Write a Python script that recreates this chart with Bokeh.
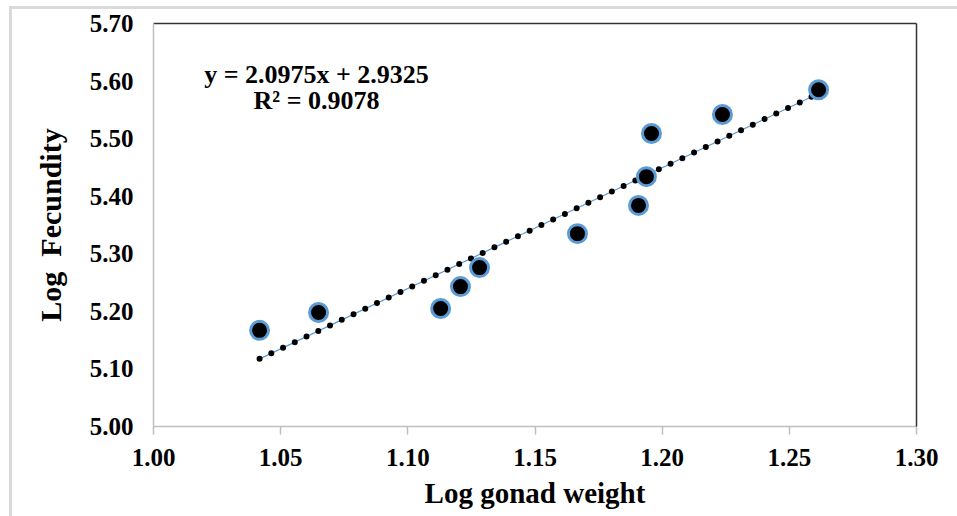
from bokeh.plotting import figure
from bokeh.models import LinearAxis, FixedTicker, Range1d, NumeralTickFormatter, Label
from bokeh.embed import file_html
from bokeh.resources import INLINE

# Data
log_gonad_weight = [1.0417, 1.0649, 1.1129, 1.1207, 1.1282, 1.1667, 1.1907, 1.1938, 1.1958, 1.2237, 1.2615]
log_fecundity = [5.167, 5.198, 5.205, 5.243, 5.276, 5.335, 5.384, 5.434, 5.509, 5.542, 5.585]
slope = 2.0975
intercept = 2.9325
r_squared = 0.9078
x_ticks = [1.00, 1.05, 1.10, 1.15, 1.20, 1.25, 1.30]
y_ticks = [5.00, 5.10, 5.20, 5.30, 5.40, 5.50, 5.60, 5.70]

FONT = "Liberation Serif"
BORDER = "#DADADA"

p = figure(width=957, height=516, output_backend="svg", toolbar_location=None,
           x_range=Range1d(1.00, 1.30), y_range=Range1d(5.00, 5.70),
           min_border_left=153, min_border_right=41, min_border_top=23, min_border_bottom=90,
           background_fill_color="white", border_fill_color=None)
p.styles = {
    "background-color": "white",
    "background-image": f"linear-gradient({BORDER},{BORDER}), linear-gradient({BORDER},{BORDER})",
    "background-size": "100% 3px, 3px 100%",
    "background-position": "9px 6px, 9px 6px",
    "background-repeat": "no-repeat",
}
p.xgrid.visible = False
p.ygrid.visible = False
p.outline_line_color = None

# trend line
tx = [min(log_gonad_weight), max(log_gonad_weight)]
ty = [slope * v + intercept for v in tx]
p.line(tx, ty, line_color="#5B9BD5", line_width=1.2)
p.line(tx, ty, line_color="black", line_width=6, line_dash="0 13", line_cap="round")

p.scatter(log_gonad_weight, log_fecundity, size=18, fill_color="black",
          line_color="#5B9BD5", line_width=3)

# axes styling
xa = p.xaxis[0]
xa.ticker = FixedTicker(ticks=x_ticks)
xa.formatter = NumeralTickFormatter(format="0.00")
xa.axis_label = "Log gonad weight"
xa.axis_line_color = "#BFBFBF"
xa.axis_line_width = 1.5
xa.major_tick_line_color = "#BFBFBF"
xa.major_tick_line_width = 1.5
xa.major_tick_out = 8
xa.major_tick_in = 0
xa.minor_tick_line_color = None
xa.major_label_standoff = 14
xa.axis_label_standoff = 8
xa.major_label_text_font = FONT
xa.major_label_text_font_style = "bold"
xa.major_label_text_font_size = "25px"
xa.major_label_text_color = "black"
xa.axis_label_text_font = FONT
xa.axis_label_text_font_style = "bold"
xa.axis_label_text_font_size = "29px"
xa.axis_label_text_color = "black"

ya = p.yaxis[0]
ya.ticker = FixedTicker(ticks=y_ticks)
ya.formatter = NumeralTickFormatter(format="0.00")
ya.axis_label = "Log\u00a0 Fecundity"
ya.axis_line_color = "#BFBFBF"
ya.axis_line_width = 1.5
ya.major_tick_line_color = None
ya.major_tick_out = 0
ya.major_tick_in = 0
ya.minor_tick_line_color = None
ya.major_label_standoff = 20
ya.axis_label_standoff = 20
ya.major_label_text_font = FONT
ya.major_label_text_font_style = "bold"
ya.major_label_text_font_size = "25px"
ya.major_label_text_color = "black"
ya.axis_label_text_font = FONT
ya.axis_label_text_font_style = "bold"
ya.axis_label_text_font_size = "30px"
ya.axis_label_text_color = "black"

# dark top / right frame edges
for side in ("above", "right"):
    ax = LinearAxis(axis_line_color="#333333", axis_line_width=1.5,
                    ticker=FixedTicker(ticks=[]),
                    major_tick_line_color=None, minor_tick_line_color=None,
                    major_label_standoff=0, major_tick_out=0, major_tick_in=0)
    p.add_layout(ax, side)

eq_x = 1.0641
p.add_layout(Label(x=eq_x, y=5.6122, text=f"y = {slope}x + {intercept}",
                   text_align="center", text_baseline="alphabetic",
                   text_font=FONT, text_font_style="bold", text_font_size="26px",
                   text_color="black"))
p.add_layout(Label(x=eq_x, y=5.5663, text=f"R² = {r_squared}",
                   text_align="center", text_baseline="alphabetic",
                   text_font=FONT, text_font_style="bold", text_font_size="26px",
                   text_color="black"))

open("out.html", "w").write(file_html(p, INLINE))
